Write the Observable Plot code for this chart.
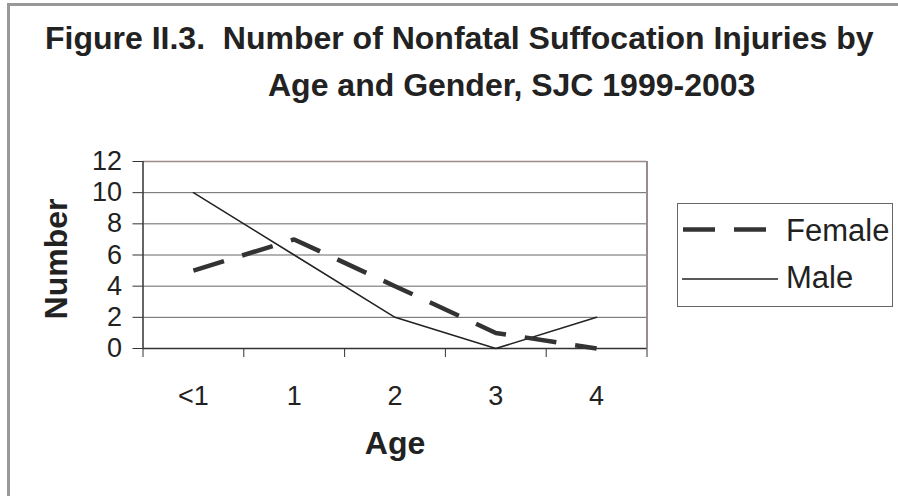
<!DOCTYPE html>
<html>
<head>
<meta charset="utf-8">
<script src="https://cdn.jsdelivr.net/npm/d3@7"></script>
<script src="https://cdn.jsdelivr.net/npm/@observablehq/plot@0.6"></script>
<style>
  body { margin: 0; background: #fff; }
  #wrap { position: relative; width: 898px; height: 496px; overflow: hidden; background: #fff;
          font-family: "Liberation Sans", Arial, Helvetica, sans-serif; color: #222; }
  #frame { position: absolute; left: 7px; top: 3px; width: 1000px; height: 600px;
           border-left: 3px solid #999; border-top: 3px solid #999; }
  .title { position: absolute; font-weight: bold; font-size: 32px; line-height: 32px; white-space: pre; }
  #chart { position: absolute; left: 0; top: 110px; }
  #legend { position: absolute; left: 677px; top: 203px; width: 214px; height: 102px; border: 1px solid #666; background: #fff; }
  .lg { position: absolute; font-size: 31px; line-height: 31px; white-space: pre; }
</style>
</head>
<body>
<div id="wrap">
  <div id="frame"></div>
  <div class="title" id="t1" style="left:45px; top:22px;"></div>
  <div class="title" id="t2" style="left:268px; top:69px;"></div>
  <div id="chart"></div>
  <div id="legend"></div>
</div>
<script>
// ---- data ----
const titleLines = ["Figure II.3.  Number of Nonfatal Suffocation Injuries by", "Age and Gender, SJC 1999-2003"];
const ages = ["<1", "1", "2", "3", "4"];
const female = [5, 7, 4, 1, 0];
const male = [10, 6, 2, 0, 2];
const yTicks = [0, 2, 4, 6, 8, 10, 12];
const seriesNames = ["Female", "Male"];
const xLabel = "Age";
const yLabel = "Number";

document.getElementById("t1").textContent = titleLines[0];
document.getElementById("t2").textContent = titleLines[1];

const rows = [];
ages.forEach((a, i) => {
  rows.push({series: seriesNames[0], idx: i, age: a, value: female[i]});
  rows.push({series: seriesNames[1], idx: i, age: a, value: male[i]});
});

const boundaries = d3.range(ages.length + 1).map(i => i - 0.5);
const centers = d3.range(ages.length);
const yMax = yTicks[yTicks.length - 1];

const chart = Plot.plot({
  width: 898,
  height: 386,
  marginTop: 51,
  marginBottom: 148,
  marginLeft: 142.5,
  marginRight: 251.5,
  style: {fontFamily: '"Liberation Sans", Arial, sans-serif', fontSize: "27px", color: "#222", background: "transparent", overflow: "visible"},
  x: {domain: [-0.5, ages.length - 0.5]},
  y: {domain: [0, yMax]},
  marks: [
    Plot.gridY(yTicks.filter(t => t > 0 && t < yMax), {stroke: "#666", strokeOpacity: 1}),
    Plot.ruleY([yMax], {stroke: "#9a8c8c", strokeWidth: 1.5}),
    Plot.ruleX([ages.length - 0.5], {stroke: "#9a8c8c", strokeWidth: 2}),
    Plot.ruleX([-0.5], {stroke: "#333", strokeWidth: 1.5}),
    Plot.ruleY([0], {stroke: "#333", strokeWidth: 1.5}),
    Plot.axisY({ticks: yTicks, tickSize: 10, tickPadding: 11, label: null, stroke: "#333"}),
    Plot.axisX({ticks: boundaries, tickSize: 9, tickFormat: () => "", label: null, stroke: "#333"}),
    Plot.axisX({ticks: centers, tickSize: 0, tickPadding: 37, tickFormat: i => ages[i], label: null}),
    Plot.lineY(rows.filter(d => d.series === seriesNames[1]), {x: "idx", y: "value", stroke: "#222", strokeWidth: 1.5}),
    Plot.lineY(rows.filter(d => d.series === seriesNames[0]), {x: "idx", y: "value", stroke: "#333", strokeWidth: 4.5, strokeDasharray: "32,19", strokeLinecap: "butt", strokeLinejoin: "miter"}),
    Plot.text([xLabel], {frameAnchor: "bottom", dy: 95, text: d => d, fontSize: 32, fontWeight: "bold", lineAnchor: "middle", textAnchor: "middle", fill: "#222"}),
    Plot.text([yLabel], {frameAnchor: "left", dx: -86, dy: 4, text: d => d, fontSize: 32, fontWeight: "bold", rotate: -90, lineAnchor: "middle", textAnchor: "middle", fill: "#222"})
  ]
});
document.getElementById("chart").appendChild(chart);

// legend
const lg = document.getElementById("legend");
const ns = "http://www.w3.org/2000/svg";
const lsvg = document.createElementNS(ns, "svg");
lsvg.setAttribute("width", 214); lsvg.setAttribute("height", 102);
lsvg.style.position = "absolute"; lsvg.style.left = "0"; lsvg.style.top = "0";
const l1 = document.createElementNS(ns, "line");
l1.setAttribute("x1", 5); l1.setAttribute("x2", 89); l1.setAttribute("y1", 25.5); l1.setAttribute("y2", 25.5);
l1.setAttribute("stroke", "#333"); l1.setAttribute("stroke-width", 4.5); l1.setAttribute("stroke-dasharray", "32,19");
const l2 = document.createElementNS(ns, "line");
l2.setAttribute("x1", 4); l2.setAttribute("x2", 100); l2.setAttribute("y1", 75); l2.setAttribute("y2", 75);
l2.setAttribute("stroke", "#222"); l2.setAttribute("stroke-width", 1.5);
lsvg.appendChild(l1); lsvg.appendChild(l2);
lg.appendChild(lsvg);
seriesNames.forEach((n, i) => {
  const s = document.createElement("div");
  s.className = "lg";
  s.textContent = n;
  s.style.left = "108px";
  s.style.top = (i === 0 ? 11 : 58) + "px";
  lg.appendChild(s);
});
</script>
</body>
</html>
